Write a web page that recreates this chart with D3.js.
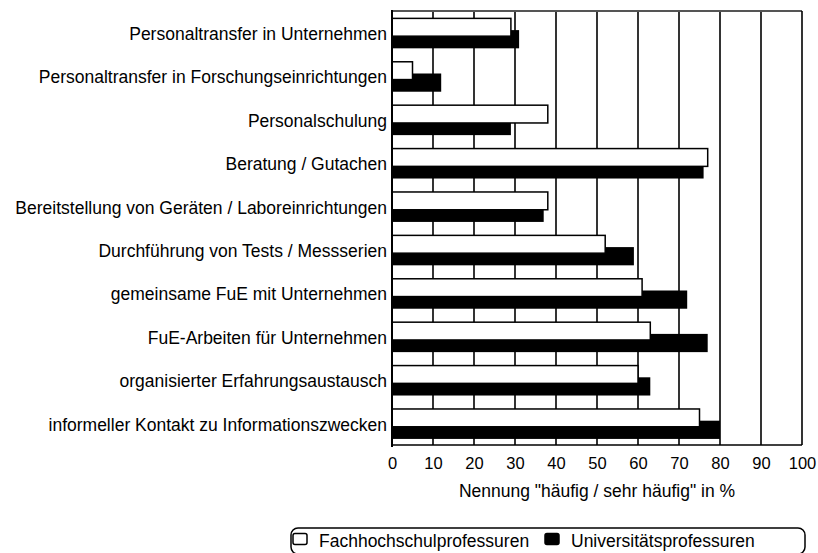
<!DOCTYPE html>
<html>
<head>
<meta charset="utf-8">
<script src="https://cdn.jsdelivr.net/npm/d3@7"></script>
<style>
  body { margin: 0; background: #fff; }
  svg { display: block; font-family: "Liberation Sans", Arial, Helvetica, sans-serif; }
</style>
</head>
<body>
<div id="chart"></div>
<script>
// categories, top to bottom
var categories = [
    "Personaltransfer in Unternehmen",
    "Personaltransfer in Forschungseinrichtungen",
    "Personalschulung",
    "Beratung / Gutachen",
    "Bereitstellung von Geräten / Laboreinrichtungen",
    "Durchführung von Tests / Messserien",
    "gemeinsame FuE mit Unternehmen",
    "FuE-Arbeiten für Unternehmen",
    "organisierter Erfahrungsaustausch",
    "informeller Kontakt zu Informationszwecken"
];

var seriesNames = ["Fachhochschulprofessuren", "Universitätsprofessuren"];
var fhValues = [29, 5, 38, 77, 38, 52, 61, 63, 60, 75];
var uniValues = [31, 12, 29, 76, 37, 59, 72, 77, 63, 80];

var xTicks = [0, 10, 20, 30, 40, 50, 60, 70, 80, 90, 100];
var xTitle = "Nennung \"häufig / sehr häufig\" in %";

var width = 818, height = 553;
var plotLeft = 392, plotRight = 802, plotTop = 11, plotBottom = 445;

var svg = d3.select("#chart").append("svg")
    .attr("width", width)
    .attr("height", height);

var x = d3.scaleLinear().domain([0, 100]).range([plotLeft, plotRight]);
var y = d3.scaleBand().domain(categories).range([plotTop, plotBottom]).paddingInner(0).paddingOuter(0);
var bw = y.bandwidth();

// category labels (drawn first so the plot covers any overflow)
svg.append("g").selectAll("text")
    .data(categories)
    .enter()
    .append("text")
    .attr("x", plotLeft - 5)
    .attr("y", function (d) { return y(d) + bw / 2; })
    .attr("dy", "0.42em")
    .attr("text-anchor", "end")
    .style("font-size", "17.5px")
    .attr("fill", "#000")
    .text(function (d) { return d; });

// plot background
svg.append("rect")
    .attr("x", plotLeft).attr("y", plotTop)
    .attr("width", plotRight - plotLeft).attr("height", plotBottom - plotTop)
    .attr("fill", "#fff");

// vertical grid
svg.append("g").selectAll("line")
    .data(xTicks.filter(function (t) { return t > 0 && t < 100; }))
    .enter()
    .append("line")
    .attr("x1", function (d) { return x(d); })
    .attr("x2", function (d) { return x(d); })
    .attr("y1", plotTop).attr("y2", plotBottom)
    .attr("stroke", "#000")
    .attr("stroke-width", 1.6);

// black bars (behind)
svg.append("g").selectAll("rect")
    .data(categories)
    .enter()
    .append("rect")
    .attr("x", x(0))
    .attr("y", function (d) { return y(d) + bw * 0.44; })
    .attr("width", function (d, i) { return x(uniValues[i]) - x(0); })
    .attr("height", bw * 0.42)
    .attr("fill", "#000");

// white bars (in front)
svg.append("g").selectAll("rect")
    .data(categories)
    .enter()
    .append("rect")
    .attr("x", x(0))
    .attr("y", function (d) { return y(d) + bw * 0.17; })
    .attr("width", function (d, i) { return x(fhValues[i]) - x(0); })
    .attr("height", bw * 0.41)
    .attr("fill", "#fff")
    .attr("stroke", "#000")
    .attr("stroke-width", 1.5);

// frame
svg.append("line").attr("x1", plotLeft).attr("x2", plotRight).attr("y1", plotTop).attr("y2", plotTop)
    .attr("stroke", "#555").attr("stroke-width", 2.2);
svg.append("line").attr("x1", plotRight).attr("x2", plotRight).attr("y1", plotTop).attr("y2", plotBottom)
    .attr("stroke", "#000").attr("stroke-width", 1.6);
svg.append("line").attr("x1", plotLeft).attr("x2", plotRight).attr("y1", plotBottom).attr("y2", plotBottom)
    .attr("stroke", "#000").attr("stroke-width", 1.6);
svg.append("line").attr("x1", plotLeft).attr("x2", plotLeft).attr("y1", plotTop - 1).attr("y2", plotBottom + 2)
    .attr("stroke", "#000").attr("stroke-width", 2);

// x axis
var xAxis = svg.append("g")
    .attr("transform", "translate(0," + plotBottom + ")")
    .call(d3.axisBottom(x).tickValues(xTicks).tickSize(0).tickPadding(12));
xAxis.select(".domain").remove();
xAxis.selectAll("text")
    .style("font-size", "16.5px")
    .style("font-family", "\"Liberation Sans\", Arial, sans-serif")
    .attr("fill", "#000");

svg.append("text")
    .attr("x", (plotLeft + plotRight) / 2)
    .attr("y", 497)
    .attr("text-anchor", "middle")
    .style("font-size", "17.5px")
    .text(xTitle);

// legend
var legend = svg.append("g");
legend.append("rect")
    .attr("x", 291).attr("y", 528)
    .attr("width", 514).attr("height", 26)
    .attr("rx", 7)
    .attr("fill", "#fff")
    .attr("stroke", "#000")
    .attr("stroke-width", 1.5);

var legendX = [293, 545];
var legendFill = ["#fff", "#000"];
var items = legend.selectAll("g.item")
    .data(seriesNames)
    .enter()
    .append("g")
    .attr("class", "item")
    .attr("transform", function (d, i) { return "translate(" + legendX[i] + ",0)"; });

items.append("rect")
    .attr("x", 0).attr("y", 533.5)
    .attr("width", 14).attr("height", 11)
    .attr("rx", 2)
    .attr("fill", function (d, i) { return legendFill[i]; })
    .attr("stroke", "#000")
    .attr("stroke-width", 1.5);

items.append("text")
    .attr("x", 26)
    .attr("y", 547)
    .style("font-size", "17.5px")
    .text(function (d) { return d; });
</script>
</body>
</html>
